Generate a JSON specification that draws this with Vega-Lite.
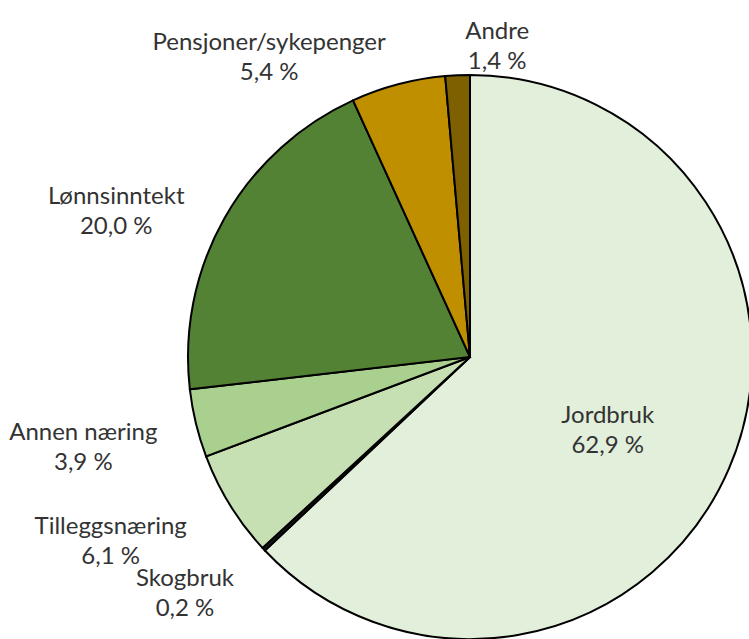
{
  "$schema": "https://vega.github.io/schema/vega-lite/v6.json",
  "width": 558,
  "height": 564,
  "autosize": {"type": "none"},
  "padding": {"left": 191, "top": 75, "right": 0, "bottom": 0},
  "background": "white",
  "config": {"view": {"stroke": null}},
  "data": {
    "values": [
      {"cat": "Jordbruk", "value": 62.9, "rank": 1},
      {"cat": "Skogbruk", "value": 0.2, "rank": 2},
      {"cat": "Tilleggsnæring", "value": 6.1, "rank": 3},
      {"cat": "Annen næring", "value": 3.9, "rank": 4},
      {"cat": "Lønnsinntekt", "value": 20.0, "rank": 5},
      {"cat": "Pensjoner/sykepenger", "value": 5.4, "rank": 6},
      {"cat": "Andre", "value": 1.4, "rank": 7}
    ]
  },
  "transform": [
    {"calculate": "datum.cat + '\\n' + replace(format(datum.value, '.1f'), '.', ',') + ' %'", "as": "label"}
  ],
  "encoding": {
    "theta": {"field": "value", "type": "quantitative", "stack": true},
    "order": {"field": "rank", "type": "quantitative", "sort": "ascending"}
  },
  "layer": [
    {
      "mark": {"type": "arc", "outerRadius": 282, "stroke": "#000000", "strokeWidth": 2},
      "encoding": {
        "color": {
          "field": "cat",
          "type": "nominal",
          "legend": null,
          "scale": {
            "domain": ["Jordbruk", "Skogbruk", "Tilleggsnæring", "Annen næring", "Lønnsinntekt", "Pensjoner/sykepenger", "Andre"],
            "range": ["#E2EFDA", "#1a1a1a", "#C6E0B4", "#A9D08E", "#548235", "#BF8F00", "#7F6000"]
          }
        }
      }
    },
    {
      "mark": {"type": "text", "radius": 325, "align": "center", "baseline": "middle", "lineBreak": "\n", "font": "Lato", "fontSize": 24, "lineHeight": 30, "fill": "#333333", "dx": {"expr": "datum.value_end > 99 ? 5.9 * length(datum.cat) + 12 : -5.9 * length(datum.cat)"}},
      "encoding": {
        "detail": {"field": "cat", "type": "nominal"},
        "text": {"condition": {"test": "datum.cat !== 'Jordbruk'", "field": "label"}, "value": ""}
      }
    },
    {
      "mark": {"type": "text", "radius": 150, "align": "center", "baseline": "middle", "lineBreak": "\n", "font": "Lato", "fontSize": 24, "lineHeight": 30, "fill": "#333333"},
      "encoding": {
        "detail": {"field": "cat", "type": "nominal"},
        "text": {"condition": {"test": "datum.cat === 'Jordbruk'", "field": "label"}, "value": ""}
      }
    }
  ]
}
